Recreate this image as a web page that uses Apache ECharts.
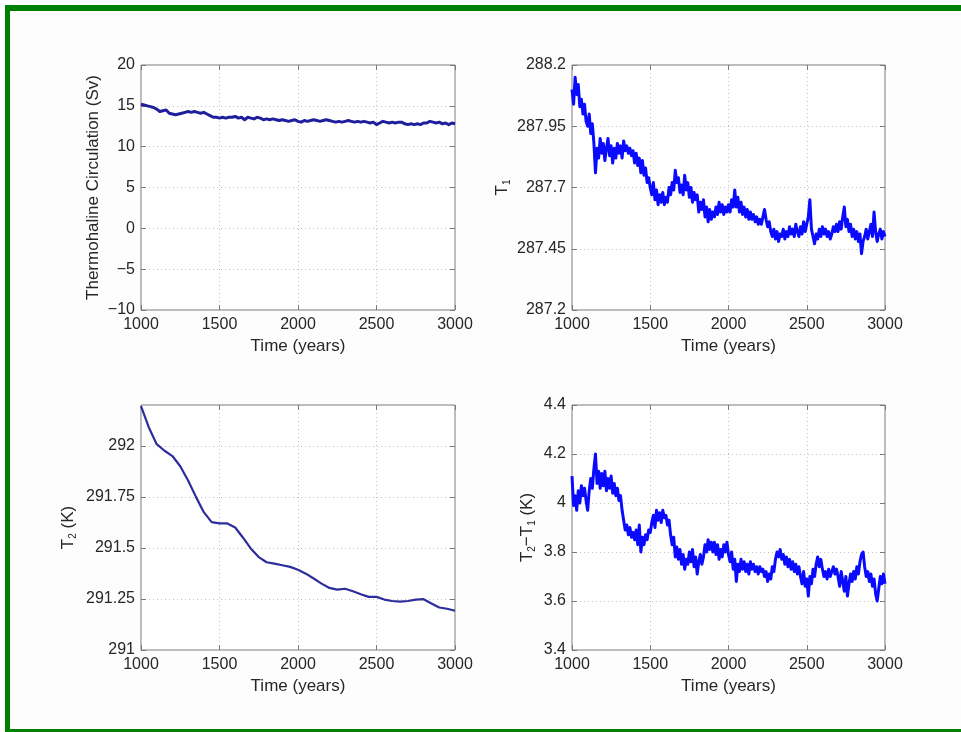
<!DOCTYPE html>
<html><head><meta charset="utf-8">
<script src="https://cdn.jsdelivr.net/npm/echarts@6/dist/echarts.min.js"></script>
<style>html,body{margin:0;padding:0;background:#fff}#c{width:961px;height:732px}</style>
</head><body><div id="c"></div><script>
// ---------- DATA ----------
// Thermohaline circulation (Sv), every 20 years from 1000 to 3000
const thcValues = [
 15.2,15.1,15.0,14.9,14.8,14.6,14.3,14.4,14.5,14.1,
 14.0,13.9,14.0,14.1,14.2,14.3,14.2,14.3,14.2,14.1,
 14.2,14.0,13.8,13.6,13.6,13.5,13.6,13.5,13.6,13.6,
 13.7,13.5,13.6,13.3,13.6,13.5,13.4,13.6,13.5,13.3,
 13.4,13.3,13.4,13.3,13.2,13.3,13.2,13.1,13.2,13.3,
 13.1,13.0,13.2,13.1,13.2,13.3,13.2,13.1,13.2,13.3,
 13.2,13.1,13.0,13.1,13.0,13.1,13.2,13.1,13.0,13.1,
 13.0,13.1,13.0,12.9,13.0,12.7,12.9,13.1,13.0,12.9,
 13.0,12.9,13.0,13.0,12.8,12.7,12.8,12.7,12.8,12.7,
 12.9,12.9,13.1,13.0,12.9,13.0,12.8,12.9,12.7,12.9,
 12.8
];
// T1, every 10 years
const t1Values = [
 288.10,288.04,288.15,288.08,288.12,288.03,288.06,288.00,288.04,287.97,
 287.95,288.00,287.92,287.96,287.88,287.76,287.86,287.82,287.90,287.84,
 287.88,287.81,287.86,287.90,287.83,287.87,287.80,287.86,287.82,287.88,
 287.84,287.87,287.82,287.89,287.85,287.87,287.84,287.86,287.83,287.85,
 287.80,287.84,287.79,287.82,287.76,287.81,287.75,287.78,287.72,287.74,
 287.70,287.67,287.72,287.65,287.69,287.63,287.67,287.64,287.68,287.63,
 287.66,287.64,287.70,287.67,287.72,287.69,287.77,287.72,287.74,287.68,
 287.71,287.67,287.75,287.69,287.72,287.66,287.70,287.64,287.68,287.65,
 287.67,287.60,287.64,287.61,287.65,287.58,287.62,287.56,287.61,287.57,
 287.60,287.58,287.62,287.59,287.64,287.60,287.63,287.59,287.62,287.60,
 287.63,287.60,287.65,287.62,287.69,287.62,287.66,287.60,287.64,287.59,
 287.62,287.58,287.61,287.57,287.60,287.57,287.59,287.56,287.58,287.55,
 287.57,287.55,287.58,287.61,287.57,287.54,287.56,287.52,287.50,287.53,
 287.49,287.52,287.48,287.51,287.50,287.53,287.49,287.52,287.50,287.54,
 287.51,287.53,287.50,287.55,287.52,287.50,287.54,287.51,287.56,287.52,
 287.55,287.58,287.65,287.53,287.50,287.47,287.51,287.49,287.53,287.50,
 287.54,287.51,287.53,287.50,287.52,287.49,287.51,287.54,287.52,287.55,
 287.52,287.56,287.53,287.58,287.62,287.54,287.57,287.52,287.55,287.50,
 287.53,287.49,287.52,287.48,287.51,287.43,287.48,287.50,287.53,287.49,
 287.52,287.55,287.50,287.60,287.52,287.48,287.51,287.53,287.49,287.52,
 287.50
];
// T2 (K), every 50 years
const t2Values = [
 292.195,292.09,292.008,291.976,291.95,291.90,291.83,291.75,291.675,291.626,
 291.62,291.62,291.60,291.55,291.496,291.455,291.43,291.423,291.415,291.407,
 291.393,291.374,291.35,291.325,291.304,291.296,291.30,291.288,291.273,291.26,
 291.26,291.247,291.24,291.237,291.24,291.247,291.249,291.228,291.208,291.202,
 291.192
];
// T2 - T1 (K), every 10 years
const dtValues = [
 4.11,3.99,4.03,3.97,4.05,4.00,4.07,4.03,4.06,4.01,
 3.97,4.05,4.10,4.06,4.14,4.20,4.08,4.13,4.06,4.12,
 4.07,4.13,4.05,4.10,4.06,4.11,4.04,4.08,4.03,4.06,
 4.01,4.03,3.97,3.93,3.89,3.91,3.87,3.90,3.86,3.88,
 3.85,3.89,3.83,3.91,3.80,3.86,3.83,3.87,3.85,3.89,
 3.88,3.92,3.95,3.90,3.97,3.93,3.96,3.92,3.97,3.94,
 3.95,3.91,3.93,3.87,3.83,3.86,3.78,3.82,3.77,3.81,
 3.75,3.79,3.73,3.77,3.75,3.80,3.76,3.81,3.74,3.78,
 3.71,3.76,3.79,3.75,3.78,3.83,3.80,3.85,3.81,3.84,
 3.80,3.84,3.79,3.83,3.77,3.81,3.78,3.83,3.80,3.84,
 3.79,3.76,3.80,3.73,3.77,3.68,3.75,3.72,3.77,3.73,
 3.76,3.72,3.75,3.71,3.76,3.73,3.75,3.72,3.74,3.71,
 3.74,3.72,3.73,3.70,3.72,3.68,3.71,3.69,3.74,3.72,
 3.77,3.80,3.78,3.81,3.77,3.79,3.75,3.78,3.74,3.77,
 3.73,3.76,3.72,3.75,3.71,3.74,3.70,3.67,3.72,3.66,
 3.69,3.62,3.70,3.67,3.73,3.70,3.75,3.78,3.74,3.77,
 3.73,3.70,3.72,3.69,3.73,3.70,3.72,3.74,3.71,3.73,
 3.70,3.66,3.72,3.68,3.64,3.70,3.62,3.67,3.71,3.68,
 3.72,3.69,3.74,3.71,3.76,3.79,3.80,3.74,3.70,3.72,
 3.68,3.71,3.66,3.69,3.63,3.60,3.65,3.70,3.67,3.71,
 3.67
];
// Tick labels
const xTicks = [1000, 1500, 2000, 2500, 3000];
const thcTicks = [-10, -5, 0, 5, 10, 15, 20];
const t1Ticks = [287.2, 287.45, 287.7, 287.95, 288.2];
const t2Ticks = [291, 291.25, 291.5, 291.75, 292];
const dtTicks = [3.4, 3.6, 3.8, 4, 4.2, 4.4];
const xName = 'Time (years)';

// ---------- BUILD ----------
function pairs(start, step, vals) { return vals.map((v, i) => [start + i * step, v]); }
const FONT = '"Liberation Sans", Arial, Helvetica, sans-serif';
const TXT = '#262626';
const AX = '#7a7a7a';
const fmt = v => String(v).replace('-', '\u2212');

const panels = [
  { grid: { left: 141, top: 65, width: 314, height: 245 }, data: pairs(1000, 20, thcValues),
    yMin: -10, yMax: 20, yTicks: thcTicks, color: '#1f1f9e', width: 3,
    yName: 'Thermohaline Circulation (Sv)', yGap: 39 },
  { grid: { left: 572, top: 65, width: 313, height: 245 }, data: pairs(1000, 10, t1Values),
    yMin: 287.2, yMax: 288.2, yTicks: t1Ticks, color: '#0a0aff', width: 3,
    yName: '{n|T}{s|1}', yGap: 60 },
  { grid: { left: 141, top: 405, width: 314, height: 245 }, data: pairs(1000, 50, t2Values),
    yMin: 291, yMax: 292.2, yTicks: t2Ticks, color: '#2d2d9c', width: 2.2,
    yName: '{n|T}{s|2}{n| (K)}', yGap: 63 },
  { grid: { left: 572, top: 405, width: 313, height: 245 }, data: pairs(1000, 10, dtValues),
    yMin: 3.4, yMax: 4.4, yTicks: dtTicks, color: '#0a0aff', width: 3,
    yName: '{n|T}{s|2}{n|\u2212T}{s|1}{n| (K)}', yGap: 35 }
];

const rich = {
  n: { fontSize: 17, fontFamily: FONT, color: TXT, lineHeight: 20, verticalAlign: 'middle' },
  s: { fontSize: 10, fontFamily: FONT, color: TXT, lineHeight: 10, verticalAlign: 'bottom' }
};

const grids = [], xAxes = [], yAxes = [], series = [];
panels.forEach((p, i) => {
  grids.push(Object.assign({ show: true, borderColor: AX, borderWidth: 1, backgroundColor: '#ffffff' }, p.grid));
  const tickStyle = { inside: true, length: 5, lineStyle: { color: AX, width: 1 } };
  const split = { show: true, lineStyle: { color: '#c4c4c4', type: [1, 3], width: 1 } };
  const noLine = { show: false, onZero: false };
  xAxes.push({
    gridIndex: i, type: 'value', min: 1000, max: 3000, position: 'bottom',
    axisLine: noLine,
    axisTick: Object.assign({ customValues: xTicks }, tickStyle),
    axisLabel: { customValues: xTicks, formatter: fmt, fontSize: 16, fontFamily: FONT, color: TXT, margin: 7 },
    splitLine: split,
    name: xName, nameLocation: 'middle', nameGap: 28,
    nameTextStyle: { fontSize: 17, fontFamily: FONT, color: TXT }
  });
  xAxes.push({
    gridIndex: i, type: 'value', min: 1000, max: 3000, position: 'top',
    axisLine: noLine,
    axisTick: Object.assign({ customValues: xTicks }, tickStyle),
    axisLabel: { show: false }, splitLine: { show: false }
  });
  yAxes.push({
    gridIndex: i, type: 'value', min: p.yMin, max: p.yMax, position: 'left',
    axisLine: noLine,
    axisTick: Object.assign({ customValues: p.yTicks }, tickStyle),
    axisLabel: { customValues: p.yTicks, formatter: fmt, fontSize: 16, fontFamily: FONT, color: TXT, margin: 6 },
    splitLine: split,
    name: p.yName, nameLocation: 'middle', nameRotate: 90, nameGap: p.yGap,
    nameTextStyle: { fontSize: 17, fontFamily: FONT, color: TXT, rich: rich }
  });
  yAxes.push({
    gridIndex: i, type: 'value', min: p.yMin, max: p.yMax, position: 'right',
    axisLine: noLine,
    axisTick: Object.assign({ customValues: p.yTicks }, tickStyle),
    axisLabel: { show: false }, splitLine: { show: false }
  });
  series.push({
    type: 'line', xAxisIndex: 2 * i, yAxisIndex: 2 * i, data: p.data,
    symbol: 'none', showSymbol: false, smooth: false,
    lineStyle: { color: p.color, width: p.width, join: 'round' }, z: 3
  });
});

const chart = echarts.init(document.getElementById('c'), null, { renderer: 'canvas' });
chart.setOption({
  backgroundColor: '#ffffff',
  animation: false,
  grid: grids, xAxis: xAxes, yAxis: yAxes, series: series,
  graphic: [
    { type: 'rect', shape: { x: 9, y: 11, width: 952, height: 718 }, style: { fill: '#fdfdfd' }, z: -10, silent: true },
    { type: 'rect', shape: { x: 5, y: 5, width: 956, height: 6 }, style: { fill: '#008000' }, silent: true },
    { type: 'rect', shape: { x: 5, y: 5, width: 5, height: 727 }, style: { fill: '#008000' }, silent: true },
    { type: 'rect', shape: { x: 5, y: 729, width: 956, height: 3 }, style: { fill: '#008000' }, silent: true }
  ]
});
</script></body></html>
